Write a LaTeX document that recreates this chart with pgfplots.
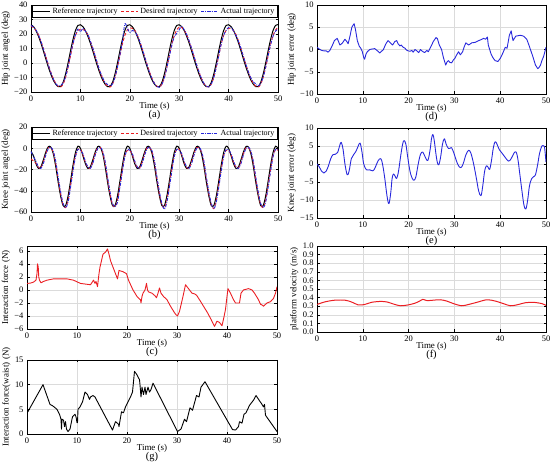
\documentclass[border=0pt]{standalone}
\usepackage{pgfplots}
\pgfplotsset{compat=1.18}
\usepackage{fontspec}
\setmainfont{Liberation Serif}
\definecolor{myred}{RGB}{235,30,35}
\definecolor{myblue}{RGB}{40,40,220}
\pgfplotsset{
 base/.style={
  scale only axis, anchor=south west, clip mode=individual,
  xmin=0, xmax=50, xtick={0,10,20,30,40,50},
  grid=major, major grid style={draw=black!14, line width=0.4pt},
  tick align=inside, major tick length=2.5bp,
  every tick/.style={black, line width=0.4pt},
  axis line style={line width=0.5pt},
  tick label style={font=\fontsize{8.5}{9}\selectfont},
  ylabel style={font=\fontsize{9}{10}\selectfont, inner sep=1pt},
  /pgf/number format/assume math mode=true,
  every axis plot/.append style={line join=round},
 },
 leg/.style={legend style={at={(0.5,1)}, anchor=north, legend columns=3, draw, line width=0.4pt,
  font=\fontsize{8}{9}\selectfont, inner sep=0.5pt, row sep=-1pt,
  /tikz/every even column/.append style={column sep=1pt}}, legend cell align=left},
 refl/.style={draw=black, color=black, line width=1pt, smooth},
 desl/.style={draw=myred, color=myred, line width=0.9pt, dash pattern=on 3pt off 2pt, smooth},
 actl/.style={draw=myblue, color=myblue, line width=0.9pt, dash pattern=on 3pt off 1.3pt on 0.8pt off 1.3pt, smooth},
}
\newcommand{\sublabels}[1]{%
 \node[font=\fontsize{9}{10}\selectfont, yshift=-14bp] at (rel axis cs:0.5,0) {Time (s)};
 \node[font=\fontsize{10.5}{11}\selectfont, yshift=-23bp] at (rel axis cs:0.5,0) {(#1)};}
\begin{document}
\begin{tikzpicture}
\useasboundingbox (0,0) rectangle (550bp,464bp);
% (a)
\begin{axis}[base, leg, at={(31bp,372bp)}, width=247bp, height=87bp,
 ymin=-20, ymax=40, ytick={-20,-10,0,10,20,30,40}, yticklabels={−20,−10,0,10,20,30,40},
 ylabel={Hip joint angel (deg)}]
\addplot[refl] coordinates {
(0,26.4)(0.5,25.1)(1,22.4)(1.5,18.5)(2,13.8)(2.5,8.4)(3,2.7)(3.5,-2.7)(4,-7.6)(4.5,-11.7)(5,-14.6)(5.5,-16.3)(6,-16.2)(6.5,-13.3)(7,-7.6)(7.5,0.0)(8,8.4)(8.5,16.2)(9,22.4)(9.5,25.9)
(10,26.4)(10.5,25.1)(11,22.4)(11.5,18.5)(12,13.8)(12.5,8.4)(13,2.7)(13.5,-2.7)(14,-7.6)(14.5,-11.7)(15,-14.6)(15.5,-16.3)(16,-16.2)(16.5,-13.3)(17,-7.6)(17.5,0.0)(18,8.4)(18.5,16.2)(19,22.4)(19.5,25.9)
(20,26.4)(20.5,25.1)(21,22.4)(21.5,18.5)(22,13.8)(22.5,8.4)(23,2.7)(23.5,-2.7)(24,-7.6)(24.5,-11.7)(25,-14.6)(25.5,-16.3)(26,-16.2)(26.5,-13.3)(27,-7.6)(27.5,0.0)(28,8.4)(28.5,16.2)(29,22.4)(29.5,25.9)
(30,26.4)(30.5,25.1)(31,22.4)(31.5,18.5)(32,13.8)(32.5,8.4)(33,2.7)(33.5,-2.7)(34,-7.6)(34.5,-11.7)(35,-14.6)(35.5,-16.3)(36,-16.2)(36.5,-13.3)(37,-7.6)(37.5,0.0)(38,8.4)(38.5,16.2)(39,22.4)(39.5,25.9)
(40,26.4)(40.5,25.1)(41,22.4)(41.5,18.5)(42,13.8)(42.5,8.4)(43,2.7)(43.5,-2.7)(44,-7.6)(44.5,-11.7)(45,-14.6)(45.5,-16.3)(46,-16.2)(46.5,-13.3)(47,-7.6)(47.5,0.0)(48,8.4)(48.5,16.2)(49,22.4)(49.5,25.9)(50,26.4)};
\addlegendentry{Reference trajectory}
\addplot[desl] coordinates {
(0,25.5)(0.5,24.5)(1,22.6)(1.5,19.5)(2,15.2)(2.5,10.0)(3,4.5)(3.5,-1.0)(4,-6.2)(4.5,-10.6)(5,-14.0)(5.5,-16.0)(6,-16.6)(6.5,-14.6)(7,-10.0)(7.5,-3.0)(8,5.0)(8.5,13.0)(9,19.0)(9.5,22.5)
(10,23.2)(10.5,23.0)(11,22.4)(11.5,19.5)(12,15.2)(12.5,10.0)(13,4.5)(13.5,-1.0)(14,-6.2)(14.5,-10.6)(15,-14.0)(15.5,-16.0)(16,-16.6)(16.5,-14.6)(17,-10.0)(17.5,-3.0)(18,5.0)(18.5,13.0)(19,19.0)(19.5,22.8)
(20,24.2)(20.5,24.0)(21,22.6)(21.5,19.5)(22,15.2)(22.5,10.0)(23,4.5)(23.5,-1.0)(24,-6.2)(24.5,-10.6)(25,-14.0)(25.5,-16.0)(26,-16.6)(26.5,-14.6)(27,-10.0)(27.5,-3.0)(28,5.0)(28.5,13.0)(29,19.0)(29.5,22.8)
(30,24.8)(30.5,24.5)(31,22.8)(31.5,19.5)(32,15.2)(32.5,10.0)(33,4.5)(33.5,-1.0)(34,-6.2)(34.5,-10.6)(35,-14.0)(35.5,-16.0)(36,-16.6)(36.5,-14.6)(37,-10.0)(37.5,-3.0)(38,5.0)(38.5,13.0)(39,19.0)(39.5,22.5)
(40,24.0)(40.5,23.8)(41,22.4)(41.5,19.5)(42,15.2)(42.5,10.0)(43,4.5)(43.5,-1.0)(44,-6.2)(44.5,-10.6)(45,-14.0)(45.5,-16.0)(46,-16.6)(46.5,-14.6)(47,-10.0)(47.5,-3.0)(48,5.0)(48.5,13.0)(49,19.0)(49.5,22.8)(50,24.5)};
\addlegendentry{Desired trajectory}
\addplot[actl] coordinates {
(0,25.8)(0.5,24.8)(1,22.8)(1.5,19.5)(2,15.0)(2.5,9.8)(3,4.2)(3.5,-1.2)(4,-6.5)(4.5,-10.8)(5,-14.2)(5.5,-15.8)(6,-15.5)(6.5,-14.0)(7,-9.5)(7.5,-2.5)(8,5.5)(8.5,13.5)(9,19.5)(9.5,23.5)
(10,21.5)(10.5,24.0)(11,22.0)(11.5,19.8)(12,15.2)(12.5,10.5)(13,4.8)(13.5,-0.8)(14,-6.0)(14.5,-10.0)(15,-13.5)(15.5,-14.8)(16,-15.8)(16.5,-14.5)(17,-9.8)(17.5,-2.8)(18,5.5)(18.5,15.0)(19,27.0)(19.5,24.0)
(20,21.0)(20.5,22.5)(21,21.8)(21.5,19.0)(22,15.0)(22.5,9.8)(23,4.3)(23.5,-1.3)(24,-6.5)(24.5,-10.8)(25,-14.2)(25.5,-16.2)(26,-16.8)(26.5,-14.8)(27,-10.2)(27.5,-3.5)(28,4.5)(28.5,12.0)(29,18.0)(29.5,20.5)
(30,23.0)(30.5,25.2)(31,23.0)(31.5,19.8)(32,15.3)(32.5,10.2)(33,4.6)(33.5,-0.9)(34,-6.0)(34.5,-10.5)(35,-14.0)(35.5,-16.0)(36,-16.6)(36.5,-14.5)(37,-10.0)(37.5,-3.0)(38,5.0)(38.5,13.0)(39,19.0)(39.5,22.5)
(40,24.5)(40.5,24.5)(41,22.0)(41.5,19.0)(42,15.0)(42.5,10.0)(43,4.5)(43.5,-1.0)(44,-6.0)(44.5,-10.2)(45,-13.0)(45.5,-14.5)(46,-15.8)(46.5,-14.0)(47,-9.8)(47.5,-3.0)(48,5.0)(48.5,12.5)(49,18.5)(49.5,22.0)(50,23.5)};
\addlegendentry{Actual trajectory}
\sublabels{a}
\end{axis}
% (b)
\begin{axis}[base, leg, at={(31bp,252bp)}, width=247bp, height=85bp,
 ymin=-60, ymax=20, ytick={-60,-40,-20,0,20}, yticklabels={−60,−40,−20,0,20},
 ylabel={Knee joint angel (deg)}]
\addplot[refl] coordinates {
(0,-3)(0.5,-7)(1,-14.5)(1.5,-19)(2,-17.5)(2.5,-11)(3,-3.5)(3.5,1.5)(4,1.2)(4.5,-5)(5,-17)(5.5,-32)(6,-45)(6.5,-54)(7,-54)(7.5,-45)(8,-31)(8.5,-16)(9,-4)(9.5,2)
(10,0)(10.5,-7)(11,-14.5)(11.5,-19)(12,-17.5)(12.5,-11)(13,-3.5)(13.5,1.5)(14,1.2)(14.5,-5)(15,-17)(15.5,-32)(16,-45)(16.5,-54)(17,-54)(17.5,-45)(18,-31)(18.5,-16)(19,-4)(19.5,2)
(20,0)(20.5,-7)(21,-14.5)(21.5,-19)(22,-17.5)(22.5,-11)(23,-3.5)(23.5,1.5)(24,1.2)(24.5,-5)(25,-17)(25.5,-32)(26,-45)(26.5,-54)(27,-54)(27.5,-45)(28,-31)(28.5,-16)(29,-4)(29.5,2)
(30,0)(30.5,-7)(31,-14.5)(31.5,-19)(32,-17.5)(32.5,-11)(33,-3.5)(33.5,1.5)(34,1.2)(34.5,-5)(35,-17)(35.5,-32)(36,-45)(36.5,-54)(37,-54)(37.5,-45)(38,-31)(38.5,-16)(39,-4)(39.5,2)
(40,0)(40.5,-7)(41,-14.5)(41.5,-19)(42,-17.5)(42.5,-11)(43,-3.5)(43.5,1.5)(44,1.2)(44.5,-5)(45,-17)(45.5,-32)(46,-45)(46.5,-54)(47,-54)(47.5,-45)(48,-31)(48.5,-16)(49,-4)(49.5,2)(50,0)};
\addlegendentry{Reference trajectory}
\addplot[desl] coordinates {
(0,-10)(0.5,-12)(1,-14)(1.5,-18)(2,-18.5)(2.5,-13)(3,-5)(3.5,0.5)(4,0.8)(4.5,-3.5)(5,-14)(5.5,-29)(6,-43)(6.5,-53)(7,-56)(7.5,-49)(8,-35)(8.5,-20)(9,-7)(9.5,-1)
(10,-1)(10.5,-6)(11,-13)(11.5,-18)(12,-18.5)(12.5,-13)(13,-5)(13.5,0.5)(14,0.8)(14.5,-3.5)(15,-14)(15.5,-29)(16,-43)(16.5,-53)(17,-55)(17.5,-49)(18,-35)(18.5,-20)(19,-7)(19.5,-2)
(20,-2)(20.5,-6)(21,-13)(21.5,-18)(22,-18.5)(22.5,-13)(23,-5)(23.5,0.5)(24,0.8)(24.5,-3.5)(25,-14)(25.5,-29)(26,-43)(26.5,-53)(27,-56)(27.5,-49)(28,-35)(28.5,-20)(29,-7)(29.5,-1)
(30,-1)(30.5,-6)(31,-13)(31.5,-18)(32,-18.5)(32.5,-13)(33,-5)(33.5,0.5)(34,0.8)(34.5,-3.5)(35,-14)(35.5,-29)(36,-43)(36.5,-53)(37,-57)(37.5,-49)(38,-35)(38.5,-20)(39,-7)(39.5,-2)
(40,-2)(40.5,-6)(41,-13)(41.5,-18)(42,-18.5)(42.5,-13)(43,-5)(43.5,0.5)(44,0.8)(44.5,-3.5)(45,-14)(45.5,-29)(46,-43)(46.5,-53)(47,-56)(47.5,-49)(48,-35)(48.5,-20)(49,-7)(49.5,-1)(50,-2)};
\addlegendentry{Desired trajectory}
\addplot[actl] coordinates {
(0,-3)(0.5,-8)(1,-12)(1.5,-17.5)(2,-19)(2.5,-14.5)(3,-6.5)(3.5,-0.5)(4,1.0)(4.5,-2.5)(5,-12)(5.5,-27)(6,-41)(6.5,-52)(7,-56)(7.5,-51)(8,-37)(8.5,-22)(9,-8)(9.5,-1)
(10,-2)(10.5,-5)(11,-12)(11.5,-17.5)(12,-19)(12.5,-14.5)(13,-6.5)(13.5,-0.5)(14,1.0)(14.5,-2.5)(15,-12)(15.5,-27)(16,-41)(16.5,-52)(17,-55)(17.5,-51)(18,-37)(18.5,-22)(19,-8)(19.5,-1)
(20,-2)(20.5,-5)(21,-12)(21.5,-17.5)(22,-19)(22.5,-14.5)(23,-6.5)(23.5,-0.5)(24,1.0)(24.5,-2.5)(25,-12)(25.5,-27)(26,-41)(26.5,-52)(27,-57.5)(27.5,-51)(28,-37)(28.5,-22)(29,-8)(29.5,-1)
(30,-2)(30.5,-5)(31,-12)(31.5,-17.5)(32,-19)(32.5,-14.5)(33,-6.5)(33.5,-0.5)(34,1.0)(34.5,-2.5)(35,-12)(35.5,-27)(36,-41)(36.5,-52)(37,-57)(37.5,-51)(38,-37)(38.5,-22)(39,-8)(39.5,-1)
(40,-2)(40.5,-5)(41,-12)(41.5,-17.5)(42,-19)(42.5,-14.5)(43,-6.5)(43.5,-0.5)(44,1.0)(44.5,-2.5)(45,-12)(45.5,-27)(46,-41)(46.5,-52)(47,-56)(47.5,-51)(48,-37)(48.5,-22)(49,-8)(49.5,-1)(50,-1)};
\addlegendentry{Actual trajectory}
\sublabels{b}
\end{axis}
% (c)
\begin{axis}[base, at={(27bp,135bp)}, width=250bp, height=83bp,
 ymin=-6, ymax=6.75, ytick={-6,-4,-2,0,2,4,6}, yticklabels={−6,−4,−2,0,2,4,6},
 ylabel={Interaction force (N)}]
\addplot[myred, line width=0.9pt] coordinates {
(0,1.0)(0.7,1.05)(1.3,1.2)(1.8,1.5)(2.0,2.5)(2.1,4.0)(2.25,3.5)(2.35,2.0)(2.5,1.5)(2.8,1.1)(3.3,1.3)(4,1.5)(5.3,1.7)(6.5,1.7)(8,1.7)(9.3,1.5)(10.7,1.0)(12.7,0.8)(13.3,1.5)(13.6,1.0)(13.8,1.3)(14.1,0.5)(14.4,2.5)(14.6,3.5)(14.9,4.5)(15.2,5.5)(15.7,5.8)(16.1,6.3)(16.4,5.5)(16.7,4.5)(17.2,3.5)(17.7,2.5)(18.1,1.7)(18.4,3.0)(19.2,2.8)(19.9,2.5)(20.3,1.5)(21.2,0.0)(22.0,-1.0)(22.5,-1.4)(22.7,-1.5)(22.8,-2.0)(23.0,-1.0)(23.2,-0.5)(23.6,0.0)(23.9,1.0)(24.1,0.0)(24.3,-0.3)(25.0,-0.5)(25.6,-0.9)(25.9,-1.2)(26.2,-0.5)(26.5,0.3)(26.8,-0.5)(27.3,-1.0)(28.0,-1.5)(28.7,-2.5)(29.5,-3.5)(29.8,-3.8)(30.1,-4.0)(30.5,-3.3)(31.2,-1.0)(31.7,0.8)(32.3,0.2)(33.0,-0.5)(33.5,-0.6)(33.9,-0.8)(34.5,-1.5)(35.3,-2.5)(36.1,-3.5)(36.8,-4.5)(37.5,-5.6)(38.0,-4.8)(38.5,-5.0)(39.0,-5.5)(39.3,-4.5)(39.7,-3.0)(40.0,-1.0)(40.2,0.2)(40.7,-0.5)(41.3,-1.5)(41.7,-2.0)(42.5,-2.0)(42.8,-0.5)(43.3,0.0)(44.3,0.2)(45.0,0.0)(45.5,-0.5)(45.9,-1.0)(46.3,-1.5)(46.7,-2.2)(47.0,-2.3)(47.3,-2.5)(48.0,-2.0)(48.7,-1.8)(49.3,-1.3)(49.7,-0.5)(50,0.5)};
\sublabels{c}
\end{axis}
% (g)
\begin{axis}[base, at={(27bp,30bp)}, width=250bp, height=74bp,
 ymin=0, ymax=15, ytick={0,5,10,15},
 ylabel={Interaction force(waist) (N)}]
\addplot[black, line width=0.9pt] coordinates {
(0,4.2)(3.2,10.0)(4.6,6.0)(5.0,5.8)(5.4,5.5)(6.0,5.0)(6.5,4.0)(6.8,3.0)(6.9,1.0)(7.0,3.0)(7.3,2.8)(7.5,1.5)(7.7,2.5)(7.9,1.0)(8.2,0.5)(8.6,1.0)(8.9,2.5)(9.1,3.5)(9.6,4.0)(9.8,3.5)(10.0,2.3)(10.1,2.3)(10.2,5.0)(10.6,5.5)(11.1,6.5)(11.6,8.5)(12.1,8.0)(12.5,7.0)(12.7,7.5)(13.2,7.8)(13.6,7.5)(17.1,0.8)(17.7,2.5)(18.3,2.0)(18.4,1.5)(18.9,4.5)(19.3,4.3)(19.7,5.5)(20.2,6.5)(20.7,7.5)(21.1,8.5)(21.5,12.7)(22.0,12.0)(22.5,11.0)(22.6,10.0)(22.8,7.5)(23.0,9.5)(23.3,8.0)(23.6,9.5)(23.8,8.0)(24.2,9.5)(24.5,8.5)(24.8,9.0)(25.2,10.3)(30.1,0.5)(30.8,1.0)(31.5,3.0)(31.9,2.5)(32.6,5.3)(33.1,4.8)(33.9,7.8)(34.4,7.5)(34.8,9.5)(35.6,10.6)(41.1,0.9)(41.7,0.8)(42.3,1.5)(42.5,2.5)(43.0,2.2)(43.4,4.0)(43.8,4.3)(44.5,5.8)(45.4,7.0)(45.8,7.8)(47.0,6.0)(47.3,5.5)(47.5,6.0)(47.7,3.8)(50,0.5)};
\sublabels{g}
\end{axis}
% (d)
\begin{axis}[base, at={(317bp,370bp)}, width=229bp, height=89bp,
 ymin=-10, ymax=10, ytick={-10,-5,0,5,10}, yticklabels={−10,−5,0,5,10},
 ylabel={Hip joint error (deg)}]
\addplot[myblue, line width=0.9pt] coordinates {
(0,0.5)(0.5,0.1)(1,-0.2)(1.5,-0.3)(2,-0.3)(2.4,-0.6)(2.8,-0.2)(3.3,0.8)(3.8,2.0)(4.4,2.5)(4.7,1.8)(5.0,1.0)(5.5,1.4)(6.1,2.3)(6.5,1.8)(6.8,1.3)(7.2,3.0)(7.6,5.0)(8.1,5.8)(8.4,4.5)(8.8,2.0)(9.2,0.8)(9.6,0.2)(9.9,-0.5)(10.2,-1.8)(10.4,-2.2)(10.7,-1.0)(11.0,-0.5)(11.5,0)(12,0.1)(12.6,0.2)(13.2,-0.3)(13.7,-0.8)(14.1,-0.4)(14.5,0)(15.0,1.2)(15.5,2.0)(15.9,1.6)(16.5,1.0)(17.0,1.8)(17.4,2.0)(17.7,1.3)(18.1,0.8)(18.4,1.0)(18.8,0.5)(19.2,0.3)(19.5,-0.1)(19.9,-0.3)(20.3,-0.4)(20.7,-0.2)(21.0,-0.6)(21.4,0.0)(21.8,-0.3)(22.2,-0.7)(22.6,0.0)(23.0,-0.4)(23.5,-0.7)(24.0,-0.2)(24.3,-0.5)(24.8,0.5)(25.4,1.8)(26.0,2.7)(26.3,2.4)(26.7,1.0)(27.2,0.0)(27.6,-1.8)(28.1,-3.5)(28.4,-2.8)(28.7,-2.5)(29.0,-2.9)(29.4,-3.0)(29.8,-2.3)(30.1,-2.0)(30.5,-1.2)(30.9,-0.5)(31.3,-1.2)(31.8,-0.5)(32.1,0.5)(32.5,1.5)(33.1,1.0)(33.8,1.5)(34.5,1.6)(35.3,2.0)(35.8,2.2)(36.4,2.5)(36.8,2.3)(37.2,2.8)(37.4,1.0)(37.7,0.0)(38.0,-1.0)(38.5,-2.0)(38.9,-2.5)(39.5,-2.7)(40.0,-2.0)(40.4,-1.2)(40.7,-0.5)(41.1,0.5)(41.5,0.3)(41.8,2.0)(42.0,3.2)(42.4,4.2)(42.6,3.0)(42.8,2.0)(43.1,2.5)(43.4,3.0)(43.9,3.1)(44.4,3.2)(45.1,3.0)(45.8,2.3)(46.2,1.2)(46.6,0.0)(47.1,-1.5)(47.4,-2.5)(47.7,-3.5)(48.2,-4.3)(48.5,-4.0)(48.8,-3.5)(49.1,-2.5)(49.5,-1.5)(49.8,-0.3)(50,0.5)};
\sublabels{d}
\end{axis}
% (e)
\begin{axis}[base, at={(317bp,246bp)}, width=229bp, height=90bp,
 ymin=-15, ymax=10, ytick={-15,-10,-5,0,5,10}, yticklabels={−15,−10,−5,0,5,10},
 ylabel={Knee joint error (deg)}]
\addplot[myblue, line width=0.9pt, smooth, tension=0.6] coordinates {
(0,0)(0.5,-0.8)(1,-2)(1.5,-2.5)(2,-2)(2.5,-0.5)(3,1.5)(3.5,2.6)(4,2.7)(4.5,3.2)(5,5.3)(5.3,6)(5.7,4)(6.1,0)(6.6,-3)(7,-2)(7.5,1.5)(8,2.6)(8.5,3.5)(9,5)(9.4,5.8)(9.8,3.5)(10.2,0)(10.8,-1.6)(11.5,-1.6)(12.2,-1.9)(12.7,-1)(13.3,0.8)(13.9,1.5)(14.3,0)(14.8,-4)(15.3,-9)(15.7,-11)(16.1,-8)(16.4,-4)(16.7,-2.8)(17.1,-3.5)(17.4,-4)(17.8,-2)(18.3,2.5)(18.7,5.5)(19.0,6.5)(19.4,5.5)(19.8,2)(20.3,-2)(20.8,-4)(21.2,-4.5)(21.6,-3.5)(22.1,0)(22.6,2.7)(23.1,3.3)(23.6,2)(24.2,1)(24.7,4)(25.0,7)(25.3,8.2)(25.6,6.5)(26.0,2.5)(26.3,0.3)(26.6,-0.2)(27.0,2)(27.4,5.5)(27.8,7)(28.2,5.5)(28.7,4.3)(29.1,4.4)(29.4,4.5)(29.9,3)(30.4,1)(30.9,-0.5)(31.4,-1)(31.9,0)(32.5,2.5)(33.1,3.8)(33.6,3)(34.2,0)(34.8,-4)(35.3,-7.5)(35.8,-8.8)(36.2,-6)(36.6,-2)(37.0,-0.5)(37.4,-1)(37.7,-1.5)(38.1,1)(38.5,4.5)(38.9,6.2)(39.3,5.5)(39.8,4)(40.4,3)(41.0,2)(41.8,0.8)(42.4,1.5)(43.0,3)(43.5,3.3)(43.9,1)(44.3,-3)(44.8,-8)(45.2,-11.5)(45.6,-12.5)(46.0,-10)(46.4,-6)(46.9,-4)(47.3,-3.5)(47.7,-3)(48.2,0)(48.6,3)(49.1,5)(49.5,5)(49.7,4.5)(50,0.5)};
\sublabels{e}
\end{axis}
% (f)
\begin{axis}[base, at={(317bp,132bp)}, width=229bp, height=86bp,
 ymin=0, ymax=1, ytick={0,0.1,...,1.0},
 yticklabel style={/pgf/number format/.cd, fixed, fixed zerofill, precision=1},
 ylabel={platform velocity (m/s)}]
\addplot[myred, line width=1pt, smooth] coordinates {
(0,0.32)(1.7,0.35)(3.9,0.37)(6.1,0.37)(7.5,0.35)(9.0,0.315)(10.4,0.32)(11.9,0.345)(13.7,0.355)(15.2,0.35)(17,0.32)(18.3,0.305)(19.9,0.315)(21.4,0.335)(22.4,0.36)(23.1,0.38)(24,0.365)(25.4,0.37)(26.9,0.375)(28.3,0.36)(29.8,0.33)(31.6,0.305)(33.1,0.32)(34.9,0.345)(37.1,0.375)(38.9,0.36)(40.7,0.33)(42.2,0.305)(43.6,0.315)(45.5,0.34)(47.3,0.345)(49.1,0.33)(50,0.31)};
\sublabels{f}
\end{axis}
\end{tikzpicture}
\end{document}
